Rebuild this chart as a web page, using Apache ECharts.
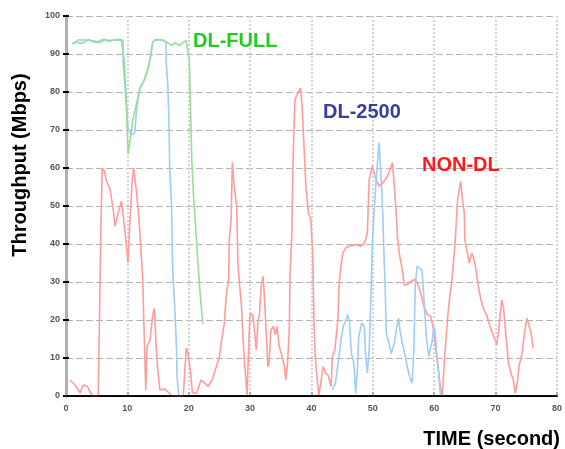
<!DOCTYPE html>
<html>
<head>
<meta charset="utf-8">
<script src="https://cdn.jsdelivr.net/npm/echarts@6/dist/echarts.min.js"></script>
<style>
  html, body { margin: 0; padding: 0; background: #fff; }
  #chart { width: 565px; height: 449px; }
</style>
</head>
<body>
<div id="chart"></div>
<script>
// ticks
var timeTicks = [0, 10, 20, 30, 40, 50, 60, 70, 80];
var mbpsTicks = [0, 10, 20, 30, 40, 50, 60, 70, 80, 90, 100];

// [time (s), throughput (Mbps)]
var nonDl = [
  [0.65,4.2],[1.5,2.9],[2.3,0.8],[2.8,2.9],[3.5,2.5],[3.9,1.1],[4.4,0],[5.25,0],[5.5,25],[5.7,45],
  [5.9,60],[6.3,59],[6.6,56.5],[7.2,54.3],[7.7,49],[8.0,44.7],[8.5,48.2],[9.05,51.3],[9.3,47.8],[9.6,43.4],
  [9.9,38.5],[10.1,35],[10.4,45.6],[10.8,57],[11.05,60],[11.5,53.5],[11.9,46.4],[12.3,36],[12.5,31.5],[12.7,18.3],
  [13.0,1.6],[13.2,13],[13.7,14.8],[14.1,21],[14.4,23.1],[14.7,13],[15.0,6],[15.3,1.6],[16.1,1.8],[16.6,1.1],
  [17.2,0],[19.1,0],[19.2,2.5],[19.6,12.7],[19.9,11],[20.3,6],[20.6,0.8],[21.3,0.8],[22.0,4.2],[22.6,3.4],
  [23.1,2.5],[23.8,4.2],[24.5,7.7],[25.0,10.4],[25.3,13.9],[25.8,19.2],[26.1,26.2],[26.5,31],[26.6,41],[26.9,46.4],
  [27.1,61.5],[27.4,55.2],[27.8,50],[27.9,43.8],[28.0,35],[28.3,28.8],[28.6,23.6],[28.8,16.5],[29.1,8.6],[29.4,2.5],
  [29.5,0],[29.6,5],[29.8,14.8],[30.0,21.8],[30.4,21.4],[30.7,17.4],[31.0,12.1],[31.3,20],[31.5,21],[31.8,28.8],
  [32.1,31.5],[32.3,27],[32.6,17.4],[32.9,7.7],[33.1,9],[33.4,17.4],[33.8,18.3],[34.1,16.1],[34.4,18.3],[34.7,13.4],
  [35.2,10.4],[35.6,7.7],[35.8,4.2],[36.1,8.6],[36.4,18.3],[36.5,31.5],[36.8,42.9],[37.0,62.3],[37.3,78],[37.7,79.4],
  [38.2,81],[38.5,75.5],[38.8,64.9],[39.1,55.2],[39.5,48.2],[39.9,46.4],[40.2,37.6],[40.4,20],[40.6,10.4],[41.0,3.4],
  [41.2,0],[41.5,3.4],[41.9,7.7],[42.3,6],[42.7,5.5],[43.2,2.5],[43.4,10.4],[43.8,12],[44.3,20],[44.5,29.7],
  [44.8,34.1],[45.1,37.6],[45.6,39],[46.4,39.6],[47.2,39.8],[48.0,39.4],[48.6,40.1],[49.1,42.9],[49.4,57],[49.9,60.5],
  [50.5,57],[51.0,55.2],[51.6,56],[52.4,57.9],[53.2,61.4],[53.5,55.2],[53.8,48.2],[54.0,42],[54.3,37.6],[54.8,33.2],
  [55.1,29.3],[55.6,29.3],[56.1,30.1],[56.7,30.6],[57.2,30],[57.8,27],[58.3,23.6],[58.9,21.4],[59.4,21],[59.9,17.4],
  [60.2,13],[60.6,7.7],[61.0,2.5],[61.3,0],[61.6,7.7],[61.9,14.8],[62.2,21],[62.5,25.7],[62.9,30.6],[63.4,40.3],
  [63.8,51.7],[64.3,56.5],[64.6,51.7],[64.9,48.2],[65.0,41],[65.4,37.6],[65.7,35],[66.1,37.6],[66.4,36.5],[66.7,34.1],
  [67.2,28.8],[67.6,25.3],[68.1,22.7],[68.6,21],[69.1,18.3],[69.7,15.6],[70.2,13.4],[70.5,17.4],[71.0,25.3],[71.3,23],
  [71.7,15.6],[72.1,8.6],[72.6,5.5],[72.9,4.2],[73.2,0.7],[73.6,4.2],[73.8,7.7],[74.3,11.2],[74.7,16.5],[75.1,20.5],
  [75.4,20],[75.8,16.5],[76.1,12.6]
];

var dl2500 = [
  [1.2,92.6],[2.0,93.7],[3.4,93.7],[4.5,93.5],[5.5,93.0],[6.2,93.6],[7.5,93.6],[9.3,93.6],[9.3,87.8],[9.6,81.6],
  [9.9,75.5],[10.1,70.2],[10.7,68.9],[11.2,69.3],[11.5,75.5],[12.0,80.7],[12.8,83.4],[13.4,86.3],[13.8,89.5],[14.1,93],
  [14.4,93.7],[15.8,93.7],[16.3,93],[16.3,88.2],[16.6,81.6],[16.8,70.2],[16.9,60],[17.2,50],[17.3,40],[17.4,32.4],
  [17.7,24],[18.0,13],[18.1,4.7],[18.4,0],[30,'-'],
  [43.4,1.6],[43.9,3.4],[44.4,9.5],[44.8,14.8],[45.2,18.3],[45.6,20],[45.9,21.4],[46.2,19.2],[46.5,11.2],[46.9,8.6],
  [47.2,0.7],[47.5,7.7],[47.7,15.6],[48.2,19.2],[48.6,18.3],[48.8,11.2],[49.1,6],[49.4,12.1],[49.7,27],[49.9,40.3],
  [50.5,56],[51.0,66.7],[51.4,56],[51.6,48.2],[51.8,37.6],[52.0,28.8],[52.2,16.5],[52.6,13.9],[53.0,11.2],[53.5,13.9],
  [53.9,18.3],[54.2,20.5],[54.4,17.4],[54.8,13.9],[55.3,10.4],[55.6,7.7],[56.0,5],[56.4,3.4],[56.7,13],[56.9,28.8],
  [57.2,34.1],[57.5,34.1],[58.0,33.2],[58.2,28.8],[58.5,21],[58.7,15.6],[59.1,10.4],[59.4,10.4],[59.7,14.8],[59.9,18.3],
  [60.1,17.5],[60.4,11.2],[60.7,6.9],[61.0,0]
];

var dlFull = [
  [1.0,92.6],[1.5,93.2],[2.0,93.0],[2.6,92.8],[3.2,93.4],[3.8,93.8],[4.4,93.2],[5.0,93.0],[5.6,93.6],[6.3,93.9],
  [7.0,93.3],[7.6,93.6],[8.2,93.8],[9.0,93.8],[9.3,93.6],[9.5,88],[9.7,82],[9.9,74],[10.1,63.6],[10.4,66.7],
  [10.9,72.8],[11.4,76.3],[12.0,80.7],[12.8,83.4],[13.4,86.3],[13.8,89.5],[14.1,93],[14.4,93.7],[15.2,93.8],[15.8,93.6],
  [16.5,93.0],[17.2,92.3],[17.8,93.0],[18.5,92.2],[19.0,93.0],[19.6,93.5],[19.9,93.2],[20.1,88],[20.3,75],[20.5,62],
  [20.8,52],[21.1,45],[21.5,35],[21.9,26],[22.1,26],[22.3,19]
];

var chart = echarts.init(document.getElementById('chart'));

var tickFont = { color: '#555', fontSize: 9, fontWeight: 'bold', fontFamily: 'Liberation Sans' };

var option = {
  animation: false,
  grid: { left: 66, right: 6, top: 16, bottom: 53 },
  xAxis: [{
    type: 'value',
    min: timeTicks[0], max: timeTicks[timeTicks.length - 1], interval: 10,
    axisLine: { lineStyle: { color: '#000', width: 1.5 } },
    axisTick: { inside: true, length: 4, lineStyle: { color: '#aaa', width: 2 } },
    axisLabel: Object.assign({ margin: 8 }, tickFont),
    splitLine: { lineStyle: { color: '#d4d4d4', width: 2, type: [2, 2] } }
  }, {
    type: 'value', position: 'top',
    min: 0, max: 80,
    axisLine: { lineStyle: { color: '#000', width: 1 } },
    axisTick: { show: false }, axisLabel: { show: false }, splitLine: { show: false }
  }, {
    // black base line drawn over the series
    type: 'value', position: 'bottom', z: 10,
    min: 0, max: 80,
    axisLine: { lineStyle: { color: '#000', width: 1.5 } },
    axisTick: { show: false }, axisLabel: { show: false }, splitLine: { show: false }
  }],
  yAxis: [{
    type: 'value',
    min: mbpsTicks[0], max: mbpsTicks[mbpsTicks.length - 1], interval: 10,
    axisLine: { show: true, lineStyle: { color: '#b0b0b0', width: 3 } },
    axisTick: { show: true, inside: true, length: 3, lineStyle: { color: '#000', width: 2 } },
    axisLabel: Object.assign({ margin: 6 }, tickFont),
    splitLine: { lineStyle: { color: '#b4b4b4', width: 1, type: [7, 3] } }
  }, {
    type: 'value', position: 'right',
    min: 0, max: 100, interval: 10,
    axisLine: { show: true, lineStyle: { color: '#b0b0b0', width: 3 } },
    axisTick: { show: true, inside: true, length: 3, lineStyle: { color: '#000', width: 2 } },
    axisLabel: { show: false }, splitLine: { show: false }
  }],
  series: [{
    name: 'NON-DL', type: 'line', data: nonDl, showSymbol: false,
    lineStyle: { color: '#ff9c9c', width: 1.6 }
  }, {
    name: 'DL-2500', type: 'line', data: dl2500, showSymbol: false, connectNulls: false,
    lineStyle: { color: '#9fcdf5', width: 1.6 }
  }, {
    name: 'DL-FULL', type: 'line', data: dlFull, showSymbol: false,
    lineStyle: { color: '#98dd98', width: 1.6 }
  }],
  graphic: [
    { type: 'text', left: 193, top: 31, z: 100,
      style: { text: 'DL-FULL', fill: '#22cc22', fontSize: 20, fontWeight: 'bold', fontFamily: 'Liberation Sans' } },
    { type: 'text', left: 323, top: 102, z: 100,
      style: { text: 'DL-2500', fill: '#3c3c9c', fontSize: 20, fontWeight: 'bold', fontFamily: 'Liberation Sans' } },
    { type: 'text', left: 422, top: 155, z: 100,
      style: { text: 'NON-DL', fill: '#ff1a1a', fontSize: 20, fontWeight: 'bold', fontFamily: 'Liberation Sans' } },
    { type: 'text', x: 20, y: 165, rotation: Math.PI / 2, z: 100,
      style: { text: 'Throughput (Mbps)', fill: '#000', fontSize: 20, fontWeight: 'bold', fontFamily: 'Liberation Sans',
               align: 'center', verticalAlign: 'middle' } },
    { type: 'text', x: 560, y: 439, z: 100,
      style: { text: 'TIME (second)', fill: '#000', fontSize: 20, fontWeight: 'bold', fontFamily: 'Liberation Sans',
               align: 'right', verticalAlign: 'middle' } }
  ]
};

chart.setOption(option);
</script>
</body>
</html>
